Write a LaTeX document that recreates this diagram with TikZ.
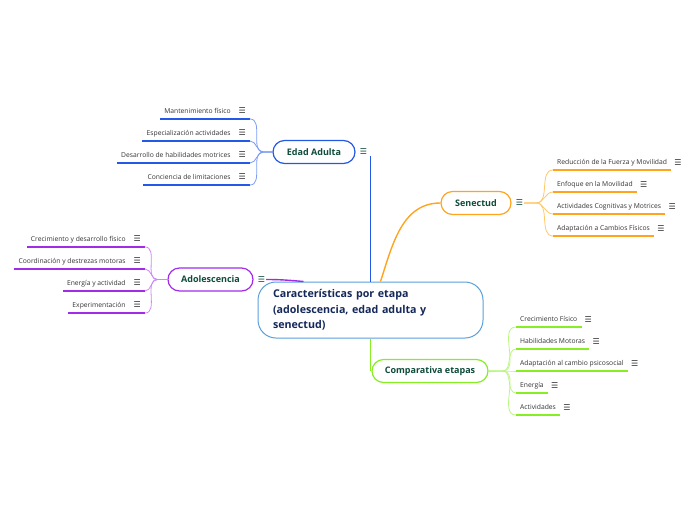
\documentclass[tikz,border=0pt]{standalone}
\usepackage{fontspec}
\setmainfont{Open Sans}
\newfontfamily\symf{DejaVu Sans}
\usepackage{tikz}
\usetikzlibrary{positioning}
\definecolor{EdadBlue}{HTML}{2458E6}
\definecolor{EdadLight}{HTML}{7C9CF2}
\definecolor{SenOrange}{HTML}{FFA41C}
\definecolor{SenLight}{HTML}{FFC86A}
\definecolor{AdoPurple}{HTML}{A22BEA}
\definecolor{AdoLight}{HTML}{CB8AF5}
\definecolor{ComGreen}{HTML}{86EE22}
\definecolor{ComLight}{HTML}{BDF585}
\definecolor{CenBlue}{HTML}{5AA0DC}
\definecolor{CenText}{HTML}{14285A}
\definecolor{BranchText}{HTML}{0E4B3B}
\definecolor{LeafText}{HTML}{333333}
\newcommand{\menuglyph}{{\symf\fontsize{8}{8}\selectfont ☰}}

\begin{document}
\begin{tikzpicture}[x=1pt, y=-1pt,
		central/.style={draw=CenBlue, line width=1pt, fill=white, rounded corners=18pt,
			minimum width=225pt, minimum height=56pt, text width=195pt, inner xsep=15pt,
			align=left, text=CenText, font=\fontsize{10.7}{15.5}\selectfont\bfseries},
		branch/.style={line width=1.2pt, fill=white, rounded corners=11.5pt,
			minimum height=23pt, text=BranchText, font=\fontsize{9}{10}\selectfont\bfseries},
		leaf/.style={inner xsep=4pt, inner ysep=3.5pt, text height=5pt, text depth=1.5pt,
			text=LeafText, font=\fontsize{6.75}{7}\selectfont},
		menu/.style={inner sep=1pt, text=BranchText, font=\symf\fontsize{8}{8}\selectfont},
		uline/.style={line width=1.8pt},
		link/.style={line width=0.8pt},
		stem/.style={line width=1.4pt}
		]
		\useasboundingbox (0,0) rectangle (696,520);

		\node[central] (cen) at (370.5,310) {Características por etapa\\(adolescencia, edad adulta y\\senectud)};

		\node[branch, draw=EdadBlue, minimum width=82pt] (ea) at (314,152) {Edad Adulta};
		\node[menu, right=3pt of ea] (eam) {☰};
		\node[branch, draw=SenOrange, minimum width=70pt] (sen) at (476,203) {Senectud};
		\node[menu, right=3pt of sen] (senm) {☰};
		\node[branch, draw=AdoPurple, minimum width=85pt] (ado) at (210.5,279.5) {Adolescencia};
		\node[menu, right=3pt of ado] (adom) {☰};
		\node[branch, draw=ComGreen, minimum width=116pt] (com) at (430,371) {Comparativa etapas};

		\draw[stem, EdadBlue] (cen.north) -- (cen.north |- eam.south);
		\draw[stem, SenOrange] ([xshift=10pt]cen.north) to[out=72, in=180] (sen.west);
		\draw[stem, AdoPurple] (adom.east) to[out=0, in=175] ([xshift=46pt]cen.north west);
		\draw[stem, ComGreen] (cen.south) -- (cen.south |- com.west);

		\node[leaf, anchor=south east] (ea1) at (250,119) {Mantenimiento físico\hspace{8pt}\menuglyph\hspace{4pt}};
		\node[leaf, anchor=south east] (ea2) at (250,141) {Especialización actividades\hspace{8pt}\menuglyph\hspace{4pt}};
		\node[leaf, anchor=south east] (ea3) at (250,163) {Desarrollo de habilidades motrices\hspace{8pt}\menuglyph\hspace{4pt}};
		\node[leaf, anchor=south east] (ea4) at (250,185) {Conciencia de limitaciones\hspace{8pt}\menuglyph\hspace{4pt}};
		\draw[uline, EdadBlue] (ea1.south west) -- (ea1.south east);
		\draw[uline, EdadBlue] (ea2.south west) -- (ea2.south east);
		\draw[uline, EdadBlue] (ea3.south west) -- (ea3.south east);
		\draw[uline, EdadBlue] (ea4.south west) -- (ea4.south east);
		\draw[link, EdadLight] (ea.west) -- ++(-9,0) to[out=180, in=0] (ea1.south east);
		\draw[link, EdadLight] (ea.west) -- ++(-9,0) to[out=180, in=0] (ea2.south east);
		\draw[link, EdadLight] (ea.west) -- ++(-9,0) to[out=180, in=0] (ea3.south east);
		\draw[link, EdadLight] (ea.west) -- ++(-9,0) to[out=180, in=0] (ea4.south east);

		\node[leaf, anchor=south east] (ad1) at (145,247) {Crecimiento y desarrollo físico\hspace{8pt}\menuglyph\hspace{4pt}};
		\node[leaf, anchor=south east] (ad2) at (145,269) {Coordinación y destrezas motoras\hspace{8pt}\menuglyph\hspace{4pt}};
		\node[leaf, anchor=south east] (ad3) at (145,291) {Energía y actividad\hspace{8pt}\menuglyph\hspace{4pt}};
		\node[leaf, anchor=south east] (ad4) at (145,313) {Experimentación\hspace{8pt}\menuglyph\hspace{4pt}};
		\draw[uline, AdoPurple] (ad1.south west) -- (ad1.south east);
		\draw[uline, AdoPurple] (ad2.south west) -- (ad2.south east);
		\draw[uline, AdoPurple] (ad3.south west) -- (ad3.south east);
		\draw[uline, AdoPurple] (ad4.south west) -- (ad4.south east);
		\draw[link, AdoLight] (ado.west) -- ++(-10,0) to[out=180, in=0] (ad1.south east);
		\draw[link, AdoLight] (ado.west) -- ++(-10,0) to[out=180, in=0] (ad2.south east);
		\draw[link, AdoLight] (ado.west) -- ++(-10,0) to[out=180, in=0] (ad3.south east);
		\draw[link, AdoLight] (ado.west) -- ++(-10,0) to[out=180, in=0] (ad4.south east);

		\node[leaf, anchor=south west] (se1) at (553,170) {Reducción de la Fuerza y Movilidad};
		\node[leaf, anchor=south west] (se2) at (553,192) {Enfoque en la Movilidad};
		\node[leaf, anchor=south west] (se3) at (553,214) {Actividades Cognitivas y Motrices};
		\node[leaf, anchor=south west] (se4) at (553,236) {Adaptación a Cambios Físicos};
		\node[menu, text=LeafText, right=2pt of se1] (se1m) {☰};
		\node[menu, text=LeafText, right=2pt of se2] (se2m) {☰};
		\node[menu, text=LeafText, right=2pt of se3] (se3m) {☰};
		\node[menu, text=LeafText, right=2pt of se4] (se4m) {☰};
		\draw[uline, SenOrange] (se1.south west) -- (se1.south east);
		\draw[uline, SenOrange] (se2.south west) -- (se2.south east);
		\draw[uline, SenOrange] (se3.south west) -- (se3.south east);
		\draw[uline, SenOrange] (se4.south west) -- (se4.south east);
		\draw[link, SenLight] (senm.east) -- ++(12,0) to[out=0, in=180] (se1.south west);
		\draw[link, SenLight] (senm.east) -- ++(12,0) to[out=0, in=180] (se2.south west);
		\draw[link, SenLight] (senm.east) -- ++(12,0) to[out=0, in=180] (se3.south west);
		\draw[link, SenLight] (senm.east) -- ++(12,0) to[out=0, in=180] (se4.south west);

		\node[leaf, anchor=south west] (co1) at (516,327) {Crecimiento Físico};
		\node[leaf, anchor=south west] (co2) at (516,349) {Habilidades Motoras};
		\node[leaf, anchor=south west] (co3) at (516,371) {Adaptación al cambio psicosocial};
		\node[leaf, anchor=south west] (co4) at (516,393) {Energía};
		\node[leaf, anchor=south west] (co5) at (516,415) {Actividades};
		\node[menu, text=LeafText, right=2pt of co1] (co1m) {☰};
		\node[menu, text=LeafText, right=2pt of co2] (co2m) {☰};
		\node[menu, text=LeafText, right=2pt of co3] (co3m) {☰};
		\node[menu, text=LeafText, right=2pt of co4] (co4m) {☰};
		\node[menu, text=LeafText, right=2pt of co5] (co5m) {☰};
		\draw[uline, ComGreen] (co1.south west) -- (co1.south east);
		\draw[uline, ComGreen] (co2.south west) -- (co2.south east);
		\draw[uline, ComGreen] (co3.south west) -- (co3.south east);
		\draw[uline, ComGreen] (co4.south west) -- (co4.south east);
		\draw[uline, ComGreen] (co5.south west) -- (co5.south east);
		\draw[link, ComLight] (com.east) -- ++(14,0) to[out=0, in=180] (co1.south west);
		\draw[link, ComLight] (com.east) -- ++(14,0) to[out=0, in=180] (co2.south west);
		\draw[link, ComLight] (com.east) -- ++(14,0) to[out=0, in=180] (co3.south west);
		\draw[link, ComLight] (com.east) -- ++(14,0) to[out=0, in=180] (co4.south west);
		\draw[link, ComLight] (com.east) -- ++(14,0) to[out=0, in=180] (co5.south west);
	\end{tikzpicture}
\end{document}
